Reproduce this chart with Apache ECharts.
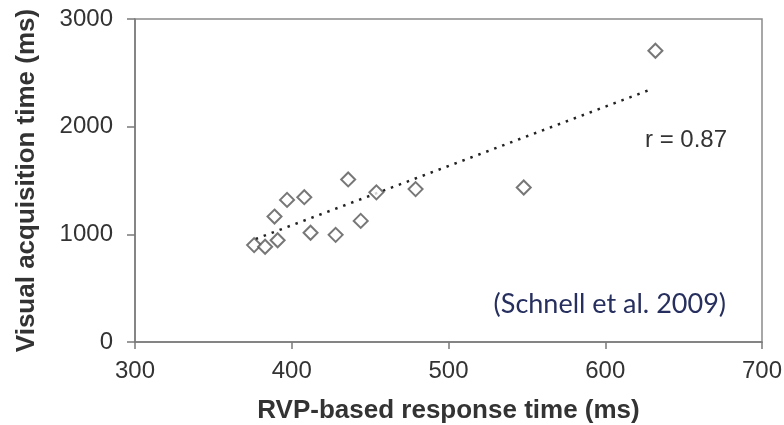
<!DOCTYPE html>
<html>
<head>
<meta charset="utf-8">
<script src="https://cdn.jsdelivr.net/npm/echarts@6/dist/echarts.min.js"></script>
<style>
html,body{margin:0;padding:0;background:#fff;}
#chart{width:784px;height:425px;}
</style>
</head>
<body>
<div id="chart"></div>
<script>
// Data
const rvpTimes = [376, 383, 391, 389, 397, 408, 412, 428, 436, 444, 454, 479, 548, 632];
const visualTimes = [900, 885, 945, 1165, 1320, 1345, 1015, 995, 1510, 1125, 1390, 1420, 1435, 2705];
const trendX = [377, 628];
const trendY = [957, 2340];
const xTicks = [300, 400, 500, 600, 700];
const yTicks = [0, 1000, 2000, 3000];
const rLabel = 'r = 0.87';
const citation = '(Schnell et al. 2009)';

const scatterData = rvpTimes.map((x, i) => [x, visualTimes[i]]);
const trendData = trendX.map((x, i) => [x, trendY[i]]);

const chart = echarts.init(document.getElementById('chart'));
const axisColor = '#7a7a7a';
const textColor = '#333';
const font = 'Liberation Sans';

chart.setOption({
  animation: false,
  backgroundColor: '#fff',
  grid: {
    left: 135, right: 22, top: 19, bottom: 83,
    containLabel: false, outerBoundsMode: 'none',
    show: true, borderColor: '#8a8a8a', borderWidth: 1.5, backgroundColor: 'transparent'
  },
  xAxis: {
    type: 'value',
    min: xTicks[0], max: xTicks[xTicks.length - 1], interval: 100,
    name: 'RVP-based response time (ms)',
    nameLocation: 'middle', nameGap: 56,
    nameTextStyle: { fontFamily: font, fontSize: 26, fontWeight: 'bold', color: textColor },
    axisLine: { lineStyle: { color: axisColor, width: 1.5 } },
    axisTick: { inside: false, length: 7, lineStyle: { color: axisColor, width: 1.5 } },
    axisLabel: { fontFamily: font, fontSize: 24, color: textColor, margin: 17, formatter: v => String(v) },
    splitLine: { show: false }
  },
  yAxis: {
    type: 'value',
    min: yTicks[0], max: yTicks[yTicks.length - 1], interval: 1000,
    name: 'Visual acquisition time (ms)',
    nameLocation: 'middle', nameGap: 95,
    nameTextStyle: { fontFamily: font, fontSize: 26, fontWeight: 'bold', color: textColor },
    axisLine: { show: true, lineStyle: { color: axisColor, width: 1.5 } },
    axisTick: { show: true, inside: false, length: 8, lineStyle: { color: axisColor, width: 1.5 } },
    axisLabel: { fontFamily: font, fontSize: 24, color: textColor, margin: 22, formatter: v => String(v) },
    splitLine: { show: false }
  },
  graphic: [
    {
      type: 'text', left: 645, top: 128, silent: true,
      style: { text: rLabel, fontFamily: font, fontSize: 24, fill: textColor }
    },
    {
      type: 'text', right: 784 - 726, top: 291, silent: true,
      style: { text: citation, fontFamily: 'Lato', fontSize: 27, fill: '#262f5e' }
    }
  ],
  series: [
    {
      type: 'line',
      data: trendData,
      symbol: 'none',
      lineStyle: { color: '#222', width: 2.5, type: [2.5, 6] },
      z: 2
    },
    {
      type: 'scatter',
      data: scatterData,
      symbol: 'diamond',
      symbolSize: 14,
      itemStyle: { color: '#fff', borderColor: '#555', borderWidth: 2 },
      z: 3
    }
  ]
});
</script>
</body>
</html>
